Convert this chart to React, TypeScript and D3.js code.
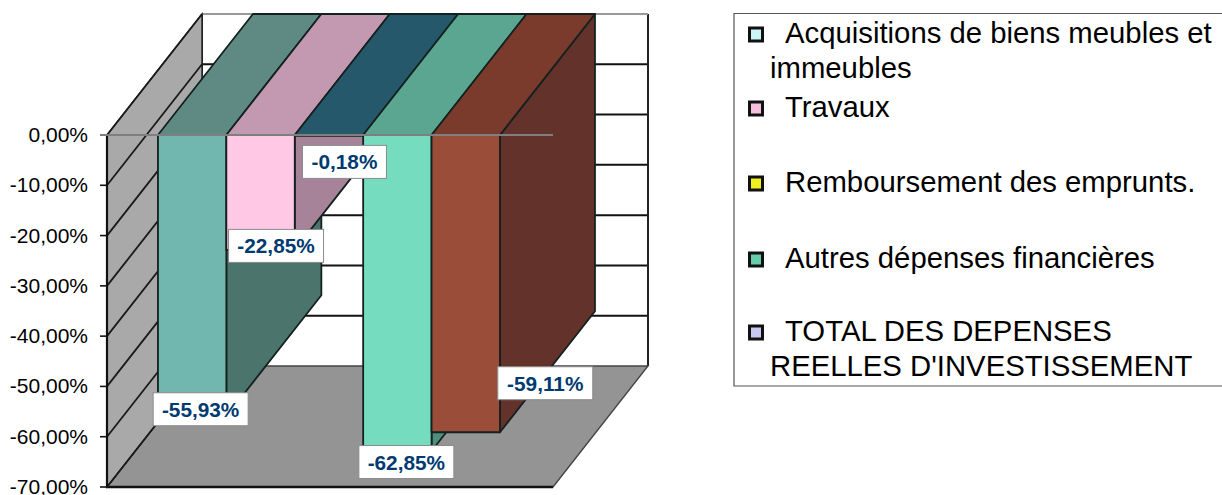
import React from 'react';
import * as d3 from 'd3';

const seriesNames = [
  'Acquisitions de biens meubles et immeubles',
  'Travaux',
  'Remboursement des emprunts.',
  'Autres dépenses financières',
  'TOTAL DES DEPENSES REELLES D\'INVESTISSEMENT',
];
const values = [-55.93, -22.85, -0.18, -62.85, -59.11];
const valueLabels = ['-55,93%', '-22,85%', '-0,18%', '-62,85%', '-59,11%'];
const yTicks = [0, -10, -20, -30, -40, -50, -60, -70];
const yTickLabels = ['0,00%', '-10,00%', '-20,00%', '-30,00%', '-40,00%', '-50,00%', '-60,00%', '-70,00%'];

const frontColors = ['#72b6b0', '#ffc9e6', '#a78399', '#76dcc0', '#9a4e3a'];
const topColors = ['#5f8a83', '#c299b0', '#25586b', '#5aa690', '#7a3a2c'];
const sideColors = ['#4b746c', '#a78399', '#1e4756', '#4c8f7c', '#63322a'];
const legendColors = ['#ccf5f5', '#f5c0e0', '#f0f020', '#66cdaa', '#c8c8f0'];

// data labels were dragged by hand in the original, so these are offsets from the bar end
const labelDx = [8.5, 15.5, 15.5, 9, 79.5];
const labelDy = [-7, -4, 26, 11, -49];

// legend rows: [swatch index or -1, x, baseline, text]
const legendLines: [number, number, number, string][] = [
  [0, 785, 43, 'Acquisitions de biens meubles et'],
  [-1, 770, 78, 'immeubles'],
  [1, 785, 117, 'Travaux'],
  [2, 785, 192, 'Remboursement des emprunts.'],
  [3, 785, 268, 'Autres dépenses financières'],
  [4, 785, 341, 'TOTAL DES DEPENSES'],
  [-1, 770, 376, "REELLES D'INVESTISSEMENT"],
];

const FONT = '"Liberation Sans", Arial, sans-serif';
const depthX = 95;
const depthY = -121;

const y = d3.scaleLinear().domain([-70, 0]).range([487, 135]);
const x = d3.scaleBand<number>()
  .domain(d3.range(values.length))
  .range([107, 553])
  .paddingInner(0)
  .paddingOuter(0.76)
  .align(0.49);

const poly = (pts: [number, number][]) => pts.map(p => p.join(',')).join(' ');
const line = d3.line();

export default function App() {
  const y0 = y(0);
  const yMin = y(-70);
  const xL = 107;
  const xR = 553;
  const bw = x.bandwidth();

  return (
    <svg
      width={1222}
      height={495}
      style={{ position: 'absolute', left: 0, top: 0, background: '#fff' }}
      fontFamily={FONT}
    >
      {/* back wall */}
      <rect x={xL + depthX} y={y0 + depthY} width={xR - xL} height={yMin - y0} fill="#fff" />
      {yTicks.slice(1, -1).map(t => (
        <line key={t} x1={xL + depthX} x2={xR + depthX} y1={y(t) + depthY} y2={y(t) + depthY} stroke="#111" strokeWidth={2} />
      ))}
      <line x1={xL + depthX} x2={xL + depthX} y1={y0 + depthY} y2={yMin + depthY} stroke="#222" strokeWidth={2} />
      <line x1={xR + depthX} x2={xR + depthX} y1={y0 + depthY} y2={yMin + depthY} stroke="#222" strokeWidth={2} />
      <line x1={xL + depthX} x2={xR + depthX} y1={y0 + depthY} y2={y0 + depthY} stroke="#999" strokeWidth={2} />

      {/* floor */}
      <polygon
        points={poly([[xL, yMin], [xL + depthX, yMin + depthY], [xR + depthX, yMin + depthY], [xR, yMin]])}
        fill="#949494"
        stroke="#444"
        strokeWidth={1.4}
      />

      {/* left wall */}
      <polygon
        points={poly([[xL, y0], [xL + depthX, y0 + depthY], [xL + depthX, yMin + depthY], [xL, yMin]])}
        fill="#a9a9a9"
        stroke="#222"
        strokeWidth={1.4}
      />
      {yTicks.map(t => (
        <line key={t} x1={xL} x2={xL + depthX} y1={y(t)} y2={y(t) + depthY} stroke="#1a1a1a" strokeWidth={1.8} />
      ))}

      {/* bars, left to right so each front hides the previous side */}
      {values.map((v, i) => {
        const l = x(i)!;
        const r = l + bw;
        const b = y(v);
        return (
          <g key={i} stroke="#14211f" strokeWidth={1.8} strokeLinejoin="round">
            <polygon points={poly([[r, y0], [r + depthX, y0 + depthY], [r + depthX, b + depthY], [r, b]])} fill={sideColors[i]} />
            <polygon points={poly([[l, y0], [l + depthX, y0 + depthY], [r + depthX, y0 + depthY], [r, y0]])} fill={topColors[i]} />
            <rect x={l} y={y0} width={bw} height={b - y0} fill={frontColors[i]} />
          </g>
        );
      })}

      {/* axis */}
      <path d={line([[xL, y0], [xL, yMin]])!} stroke="#111" strokeWidth={2.2} fill="none" />
      <path d={line([[xL, yMin], [xR, yMin]])!} stroke="#111" strokeWidth={2.6} fill="none" />
      <path d={line([[xL - 7, y0], [xR, y0]])!} stroke="#7f7f7f" strokeWidth={2} fill="none" />
      {yTicks.map((t, i) => (
        <g key={t}>
          {i > 0 && <line x1={xL - 7} x2={xL} y1={y(t)} y2={y(t)} stroke="#111" strokeWidth={1.6} />}
          <text x={88} y={y(t) + 7} textAnchor="end" fontSize={21} fill="#000">{yTickLabels[i]}</text>
        </g>
      ))}

      {/* value labels */}
      {values.map((v, i) => {
        const cx = x(i)! + bw / 2 + labelDx[i];
        const cy = y(v) + labelDy[i];
        const w = i === 2 ? 84 : 95;
        return (
          <g key={i}>
            <rect x={cx - w / 2} y={cy - 16.5} width={w} height={33} fill="#fff" stroke="#8a8a8a" strokeWidth={1} />
            <text x={cx} y={cy + 7.5} textAnchor="middle" fontSize={20.8} fontWeight="bold" fill="#003a70">{valueLabels[i]}</text>
          </g>
        );
      })}

      {/* legend */}
      <path d="M1222,13.5 H734 V386 H1222" fill="none" stroke="#555" strokeWidth={1.2} />
      {legendLines.map(([idx, lx, ly, txt]) => (
        <g key={txt}>
          {idx >= 0 && (
            <rect x={749.5} y={ly - 15} width={13} height={13} fill={legendColors[idx]} stroke="#111" strokeWidth={3}>
              <title>{seriesNames[idx]}</title>
            </rect>
          )}
          <text x={lx} y={ly} fontSize={29.3} fill="#000">{txt}</text>
        </g>
      ))}
    </svg>
  );
}
